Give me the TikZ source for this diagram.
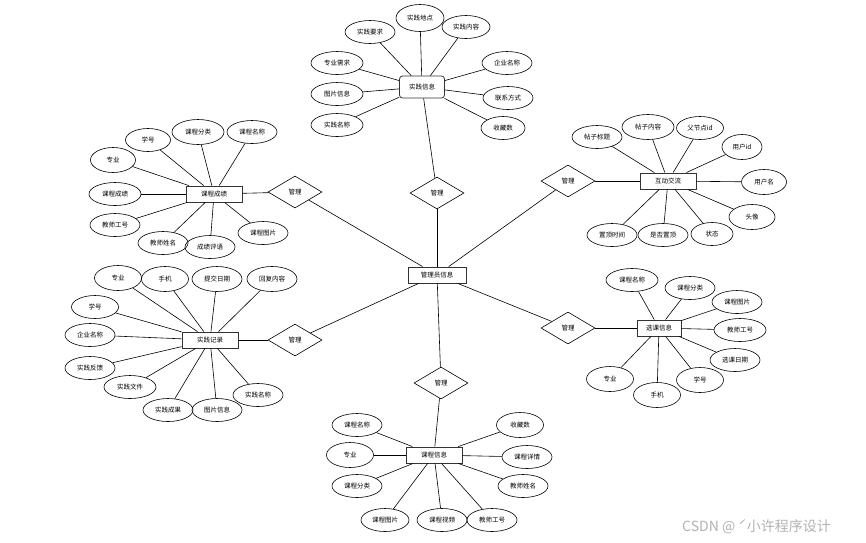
\documentclass[tikz,border=0pt]{standalone}
\usepackage{fontspec}
\setmainfont{Noto Sans CJK SC}
\usetikzlibrary{shapes.geometric}

\begin{document}
\begin{tikzpicture}[x=1pt,y=-1pt,
    every node/.style={font=\fontsize{6.5}{7}\selectfont},
    attr/.style={ellipse,draw,line width=0.6pt,minimum width=50pt,minimum height=23pt,inner sep=0pt},
    ent/.style={rectangle,draw=black!80,line width=0.9pt,minimum width=56pt,minimum height=16pt,inner sep=0pt},
    rel/.style={diamond,draw,line width=0.6pt,minimum width=54pt,minimum height=32pt,inner sep=0pt},
    link/.style={line width=0.6pt}]
    \useasboundingbox (0,0) rectangle (866,542);

    \node[ent,minimum width=58pt] (gly) at (437,275) {管理员信息};

    \node[rel] (r1) at (437,193) {管理};
    \node[rel] (r2) at (295,192) {管理};
    \node[rel] (r3) at (295,340) {管理};
    \node[rel] (r4) at (568,181) {管理};
    \node[rel] (r5) at (568,328) {管理};
    \node[rel] (r6) at (441,383) {管理};

    \node[ent,rounded corners=3pt,line width=0.8pt,minimum width=45pt,minimum height=22pt] (sjxx) at (422,87) {实践信息};
    \node[ent] (kccj) at (214,194) {课程成绩};
    \node[ent] (hdjl) at (668,181) {互动交流};
    \node[ent] (sjjl) at (210,340) {实践记录};
    \node[ent,minimum width=44pt] (xkxx) at (659,328) {选课信息};
    \node[ent] (kcxx) at (434,455) {课程信息};

    \draw[link] (gly) -- (r1);
    \draw[link] (r1) -- (sjxx);
    \draw[link] (gly) -- (r2);
    \draw[link] (r2) -- (kccj);
    \draw[link] (gly) -- (r3);
    \draw[link] (r3) -- (sjjl);
    \draw[link] (gly) -- (r4);
    \draw[link] (r4) -- (hdjl);
    \draw[link] (gly) -- (r5);
    \draw[link] (r5) -- (xkxx);
    \draw[link] (gly) -- (r6);
    \draw[link] (r6) -- (kcxx);

    \node[attr] (sjxx1) at (370,32) {实践要求};
    \node[attr,minimum width=48pt,minimum height=27pt] (sjxx2) at (420,18) {实践地点};
    \node[attr,minimum width=48pt] (sjxx3) at (466,27) {实践内容};
    \node[attr,minimum width=52pt] (sjxx4) at (337,63) {专业需求};
    \node[attr,minimum width=52pt] (sjxx5) at (337,94) {图片信息};
    \node[attr,minimum width=52pt] (sjxx6) at (337,125) {实践名称};
    \node[attr] (sjxx7) at (507,63) {企业名称};
    \node[attr] (sjxx8) at (508,98) {联系方式};
    \node[attr,minimum width=44pt] (sjxx9) at (503,128) {收藏数};
    \draw[link] (sjxx) -- (sjxx1);
    \draw[link] (sjxx) -- (sjxx2);
    \draw[link] (sjxx) -- (sjxx3);
    \draw[link] (sjxx) -- (sjxx4);
    \draw[link] (sjxx) -- (sjxx5);
    \draw[link] (sjxx) -- (sjxx6);
    \draw[link] (sjxx) -- (sjxx7);
    \draw[link] (sjxx) -- (sjxx8);
    \draw[link] (sjxx) -- (sjxx9);

    \node[attr,minimum width=45pt] (kccj1) at (148,140) {学号};
    \node[attr,minimum width=52pt,minimum height=25pt] (kccj2) at (198,132) {课程分类};
    \node[attr] (kccj3) at (252,132) {课程名称};
    \node[attr,minimum width=45pt,minimum height=25pt] (kccj4) at (113,160) {专业};
    \node[attr,minimum width=52pt] (kccj5) at (115,194) {课程成绩};
    \node[attr] (kccj6) at (115,225) {教师工号};
    \node[attr] (kccj7) at (163,243) {教师姓名};
    \node[attr] (kccj8) at (210,247) {成绩评语};
    \node[attr] (kccj9) at (263,233) {课程图片};
    \draw[link] (kccj) -- (kccj1);
    \draw[link] (kccj) -- (kccj2);
    \draw[link] (kccj) -- (kccj3);
    \draw[link] (kccj) -- (kccj4);
    \draw[link] (kccj) -- (kccj5);
    \draw[link] (kccj) -- (kccj6);
    \draw[link] (kccj) -- (kccj7);
    \draw[link] (kccj) -- (kccj8);
    \draw[link] (kccj) -- (kccj9);

    \node[attr] (hdjl1) at (597,137) {帖子标题};
    \node[attr,minimum width=52pt,minimum height=25pt] (hdjl2) at (648,127) {帖子内容};
    \node[attr,minimum width=47pt] (hdjl3) at (700,128) {父节点id};
    \node[attr,minimum width=40pt,minimum height=25pt] (hdjl4) at (742,147) {用户id};
    \node[attr,minimum width=45pt,minimum height=25pt] (hdjl5) at (764,182) {用户名};
    \node[attr,minimum width=46pt,minimum height=25pt] (hdjl6) at (752,217) {头像};
    \node[attr] (hdjl7) at (612,235) {置顶时间};
    \node[attr] (hdjl8) at (663,235) {是否置顶};
    \node[attr,minimum width=42pt] (hdjl9) at (712,234) {状态};
    \draw[link] (hdjl) -- (hdjl1);
    \draw[link] (hdjl) -- (hdjl2);
    \draw[link] (hdjl) -- (hdjl3);
    \draw[link] (hdjl) -- (hdjl4);
    \draw[link] (hdjl) -- (hdjl5);
    \draw[link] (hdjl) -- (hdjl6);
    \draw[link] (hdjl) -- (hdjl7);
    \draw[link] (hdjl) -- (hdjl8);
    \draw[link] (hdjl) -- (hdjl9);

    \node[attr,minimum width=47pt,minimum height=25pt] (sjjl1) at (118,278) {专业};
    \node[attr,minimum width=47pt,minimum height=25pt] (sjjl2) at (165,279) {手机};
    \node[attr,minimum height=25pt] (sjjl3) at (217,279) {提交日期};
    \node[attr,minimum height=25pt] (sjjl4) at (272,279) {回复内容};
    \node[attr,minimum width=47pt] (sjjl5) at (95,307) {学号};
    \node[attr] (sjjl6) at (90,335) {企业名称};
    \node[attr] (sjjl7) at (90,368) {实践反馈};
    \node[attr,minimum width=52pt] (sjjl8) at (130,387) {实践文件};
    \node[attr] (sjjl9) at (168,410) {实践成果};
    \node[attr] (sjjl10) at (217,410) {图片信息};
    \node[attr] (sjjl11) at (258,395) {实践名称};
    \draw[link] (sjjl) -- (sjjl1);
    \draw[link] (sjjl) -- (sjjl2);
    \draw[link] (sjjl) -- (sjjl3);
    \draw[link] (sjjl) -- (sjjl4);
    \draw[link] (sjjl) -- (sjjl5);
    \draw[link] (sjjl) -- (sjjl6);
    \draw[link] (sjjl) -- (sjjl7);
    \draw[link] (sjjl) -- (sjjl8);
    \draw[link] (sjjl) -- (sjjl9);
    \draw[link] (sjjl) -- (sjjl10);
    \draw[link] (sjjl) -- (sjjl11);

    \node[attr,minimum width=52pt] (xkxx1) at (632,280) {课程名称};
    \node[attr] (xkxx2) at (690,288) {课程分类};
    \node[attr] (xkxx3) at (737,302) {课程图片};
    \node[attr,minimum width=52pt] (xkxx4) at (740,330) {教师工号};
    \node[attr] (xkxx5) at (735,360) {选课日期};
    \node[attr,minimum width=47pt,minimum height=25pt] (xkxx6) at (610,379) {专业};
    \node[attr,minimum width=47pt,minimum height=25pt] (xkxx7) at (657,395) {手机};
    \node[attr,minimum width=47pt,minimum height=25pt] (xkxx8) at (700,380) {学号};
    \draw[link] (xkxx) -- (xkxx1);
    \draw[link] (xkxx) -- (xkxx2);
    \draw[link] (xkxx) -- (xkxx3);
    \draw[link] (xkxx) -- (xkxx4);
    \draw[link] (xkxx) -- (xkxx5);
    \draw[link] (xkxx) -- (xkxx6);
    \draw[link] (xkxx) -- (xkxx7);
    \draw[link] (xkxx) -- (xkxx8);

    \node[attr] (kcxx1) at (357,425) {课程名称};
    \node[attr,minimum width=47pt,minimum height=25pt] (kcxx2) at (350,455) {专业};
    \node[attr] (kcxx3) at (357,486) {课程分类};
    \node[attr,minimum width=48pt] (kcxx4) at (385,520) {课程图片};
    \node[attr] (kcxx5) at (442,520) {课程视频};
    \node[attr] (kcxx6) at (492,520) {教师工号};
    \node[attr,minimum width=47pt,minimum height=25pt] (kcxx7) at (520,425) {收藏数};
    \node[attr] (kcxx8) at (527,457) {课程详情};
    \node[attr] (kcxx9) at (523,486) {教师姓名};
    \draw[link] (kcxx) -- (kcxx1);
    \draw[link] (kcxx) -- (kcxx2);
    \draw[link] (kcxx) -- (kcxx3);
    \draw[link] (kcxx) -- (kcxx4);
    \draw[link] (kcxx) -- (kcxx5);
    \draw[link] (kcxx) -- (kcxx6);
    \draw[link] (kcxx) -- (kcxx7);
    \draw[link] (kcxx) -- (kcxx8);
    \draw[link] (kcxx) -- (kcxx9);

    \node[anchor=west,inner sep=0pt,text=black!30,font=\fontsize{14}{14}\selectfont] (wm) at (682,527) {CSDN @ ˊ小许程序设计};
\end{tikzpicture}
\end{document}
